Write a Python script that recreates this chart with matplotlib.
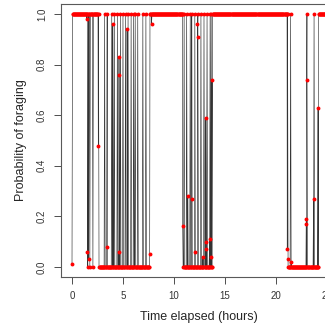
import numpy as np
import matplotlib
matplotlib.use("Agg")
import matplotlib.pyplot as plt
from matplotlib.ticker import MultipleLocator

plt.rcParams['font.family'] = ['Liberation Sans', 'DejaVu Sans']

# === Behavioural record ===
# sampling interval of the record (hours) and end of the record
step = 0.05
t_end = 25.0

# times (h) at which the decoded bout changes, and the state held afterwards
switch_times = [0.05, 2.65, 7.65, 10.88, 13.80, 21.18, 24.20]
switch_levels = [1, 0, 1, 0, 1, 0, 1]

# single samples that flip to the other state inside a bout
blip_times = [1.55, 1.76, 2.06,
              3.20, 3.45, 3.88, 4.15, 4.45, 4.75, 5.00, 5.25, 5.52, 5.78,
              6.05, 6.18, 6.47, 6.96, 7.25,
              11.00, 11.27, 11.60, 11.76, 12.06, 12.35, 12.65, 12.94,
              13.24, 13.53, 13.66,
              21.45, 23.06, 23.75]

# samples with an intermediate probability of foraging
mid_times = [0.00, 1.45, 1.51, 1.63, 2.58, 3.46, 4.00, 4.59, 4.60, 4.61,
             5.40, 7.62, 7.80, 10.86, 11.36, 11.74, 12.03, 12.30, 12.32,
             12.84, 13.12, 13.14, 13.16, 13.50, 13.63, 13.72,
             21.12, 21.20, 21.52, 22.98, 23.00, 23.02, 23.70, 24.14]
mid_probs = [0.01, 0.98, 0.06, 0.03, 0.48, 0.08, 0.96, 0.06, 0.76, 0.83,
             0.94, 0.05, 0.96, 0.16, 0.28, 0.27, 0.06, 0.96, 0.91,
             0.04, 0.59, 0.10, 0.07, 0.11, 0.04, 0.74,
             0.07, 0.03, 0.02, 0.19, 0.17, 0.74, 0.27, 0.63]

# === Assemble the series ===
grid = np.arange(step, t_end + step / 2, step)
idx = np.searchsorted(switch_times, grid, side='right') - 1
state = np.array(switch_levels, dtype=float)[idx]
blip_idx = np.rint((np.array(blip_times) - step) / step).astype(int)
state[blip_idx] = 1 - state[blip_idx]

t_all = np.concatenate([grid, mid_times])
p_all = np.concatenate([state, mid_probs])
order = np.argsort(t_all, kind='stable')
t_all, p_all = t_all[order], p_all[order]

# === Figure ===
fig = plt.figure(figsize=(3.25, 3.28), dpi=100)
ax = fig.add_axes([61 / 325, 1 - 277 / 328, (337 - 61) / 325, 273 / 328])

ax.plot(t_all, p_all, color='0.2', linewidth=0.45, zorder=2)
ax.plot(t_all, p_all, 'o', color='red', markersize=2.8, markeredgewidth=0, zorder=3)

ax.set_xlim(-1.08, 26.0)
ax.set_ylim(-0.04, 1.04)
ax.xaxis.set_major_locator(MultipleLocator(5))
ax.set_yticks([0.0, 0.2, 0.4, 0.6, 0.8, 1.0])
ax.set_yticklabels(['0.0', '0.2', '0.4', '0.6', '0.8', '1.0'], rotation=90, va='center')

ax.tick_params(axis='both', direction='out', length=5, width=0.7, color='0.3',
               labelsize=7, labelcolor='0.2')
ax.tick_params(axis='x', pad=5)
ax.tick_params(axis='y', pad=5)
for sp in ax.spines.values():
    sp.set_color('0.35')
    sp.set_linewidth(0.8)

ax.set_xlabel('Time elapsed (hours)', fontsize=9, color='0.15')
ax.set_ylabel('Probability of foraging', fontsize=9, color='0.15')
ax.xaxis.set_label_coords(0.5, -(317 - 277) / 273)
ax.xaxis.label.set_va('center')
ax.yaxis.set_label_coords(-(61 - 21) / 276, 0.5)
ax.yaxis.label.set_va('center')

fig.savefig('out.png', dpi=100)
